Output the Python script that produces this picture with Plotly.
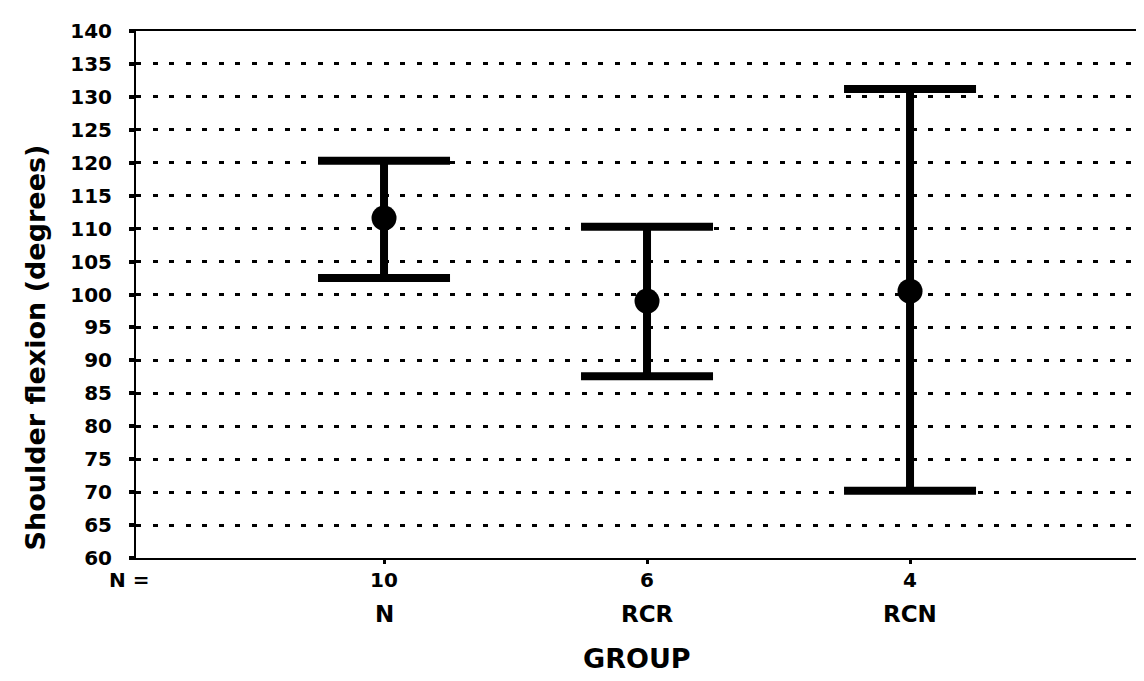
import plotly.graph_objects as go

groups = ["N", "RCR", "RCN"]
counts = [10, 6, 4]
means = [111.6, 99.0, 100.5]
upper = [120.3, 110.3, 131.2]
lower = [102.5, 87.6, 70.2]

xpos = [1, 2, 3]
err_plus = [u - m for u, m in zip(upper, means)]
err_minus = [m - l for m, l in zip(means, lower)]

FONT = "DejaVu Sans"
BOLD = dict(family=FONT, color="black", weight="bold")

fig = go.Figure()
fig.add_trace(go.Scatter(
    x=xpos, y=means, mode="markers",
    marker=dict(size=25, color="black", symbol="circle"),
    error_y=dict(type="data", symmetric=False, array=err_plus, arrayminus=err_minus,
                 color="black", thickness=8, width=66),
    showlegend=False, hoverinfo="skip",
))

annotations = [dict(x=0.0, xref="paper", y=-0.0417, yref="paper", text="N =",
                    showarrow=False, xanchor="center", yanchor="middle",
                    xshift=-7, font=dict(BOLD, size=20))]
for xp, c, g in zip(xpos, counts, groups):
    annotations.append(dict(x=xp, xref="x", y=-0.0417, yref="paper", text=str(c),
                            showarrow=False, xanchor="center", yanchor="middle",
                            font=dict(BOLD, size=20)))
    annotations.append(dict(x=xp, xref="x", y=-0.1063, yref="paper", text=g,
                            showarrow=False, xanchor="center", yanchor="middle",
                            font=dict(BOLD, size=23)))
annotations.append(dict(x=0.493, xref="paper", y=-0.1915, yref="paper", text="GROUP",
                        showarrow=False, xanchor="center", yanchor="middle",
                        font=dict(BOLD, size=27)))
annotations.append(dict(x=-0.0989, xref="paper", y=0.3985, yref="paper",
                        text="Shoulder flexion (degrees)", textangle=-90,
                        showarrow=False, xanchor="center", yanchor="middle",
                        font=dict(BOLD, size=27)))

fig.update_layout(
    width=1144, height=681,
    margin=dict(l=128, r=0, t=23, b=131),
    paper_bgcolor="white", plot_bgcolor="white",
    font=BOLD,
    annotations=annotations,
    xaxis=dict(
        range=[0.057, 3.92], tickvals=xpos, showticklabels=False,
        showgrid=False, zeroline=False,
        showline=True, linecolor="black", linewidth=2, mirror=True,
        ticks="outside", ticklen=4, tickwidth=3, tickcolor="black",
    ),
    yaxis=dict(
        range=[60, 140], dtick=5, tick0=60,
        showgrid=True, gridcolor="black", gridwidth=2.5, griddash="5px,11.5px",
        zeroline=False,
        showline=True, linecolor="black", linewidth=2, mirror=False,
        ticks="outside", ticklen=5, tickwidth=4, tickcolor="black",
        tickfont=dict(BOLD, size=20),
        ticklabelstandoff=13,
    ),
)

fig.write_html("out.html")
